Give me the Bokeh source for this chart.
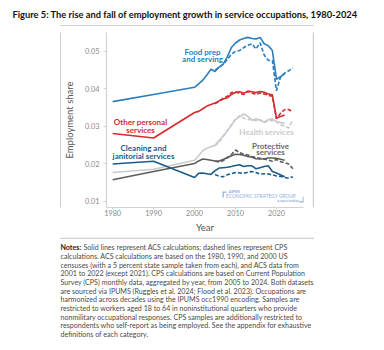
from bokeh.plotting import figure
from bokeh.models import Label, BoxAnnotation, PolyAnnotation, FixedTicker, Range1d
from bokeh.layouts import column, row
from bokeh.embed import file_html
from bokeh.resources import INLINE

# ---------------- data ----------------
years_acs = [1980, 1990, 2000, 2001, 2002, 2003, 2004, 2005, 2006, 2007, 2008, 2009,
             2010, 2011, 2012, 2013, 2014, 2015, 2016, 2017, 2018, 2019, 2020, 2022]
years_cps = [2005, 2006, 2007, 2008, 2009, 2010, 2011, 2012, 2013, 2014,
             2015, 2016, 2017, 2018, 2019, 2020, 2021, 2022, 2023, 2024]

food_acs = [0.0366, 0.0385, 0.0404, 0.0413, 0.0423, 0.0437, 0.0452, 0.0446, 0.0458, 0.0466,
            0.0485, 0.0510, 0.0522, 0.0530, 0.0534, 0.0537, 0.0534, 0.0533, 0.0537, 0.0520,
            0.0515, 0.0502, 0.0425, 0.0440]
food_cps = [0.0450, 0.0458, 0.0465, 0.0478, 0.0492, 0.0500, 0.0502, 0.0510, 0.0516, 0.0520,
            0.0506, 0.0523, 0.0490, 0.0476, 0.0475, 0.0395, 0.0432, 0.0442, 0.0448, 0.0455]

personal_acs = [0.0281, 0.0269, 0.0337, 0.0340, 0.0347, 0.0354, 0.0358, 0.0362, 0.0368, 0.0373,
                0.0376, 0.0385, 0.0390, 0.0392, 0.0388, 0.0394, 0.0392, 0.0390, 0.0393, 0.0391,
                0.0386, 0.0384, 0.0322, 0.0330]
personal_cps = [0.0360, 0.0367, 0.0375, 0.0380, 0.0390, 0.0392, 0.0388, 0.0385, 0.0393, 0.0389,
                0.0385, 0.0389, 0.0386, 0.0383, 0.0380, 0.0320, 0.0335, 0.0345, 0.0345, 0.0338]

health_acs = [0.0177, 0.0186, 0.0210, 0.0222, 0.0235, 0.0242, 0.0246, 0.0250, 0.0262, 0.0275,
              0.0288, 0.0302, 0.0318, 0.0326, 0.0333, 0.0327, 0.0316, 0.0320, 0.0316, 0.0312,
              0.0318, 0.0320, 0.0313, 0.0308]
health_cps = [0.0248, 0.0258, 0.0272, 0.0290, 0.0305, 0.0320, 0.0328, 0.0322, 0.0318, 0.0320,
              0.0315, 0.0318, 0.0310, 0.0315, 0.0316, 0.0312, 0.0305, 0.0300, 0.0296, 0.0318]

protect_acs = [0.0158, 0.0180, 0.0201, 0.0208, 0.0213, 0.0212, 0.0210, 0.0208, 0.0208, 0.0212,
               0.0217, 0.0222, 0.0226, 0.0225, 0.0223, 0.0220, 0.0218, 0.0214, 0.0213, 0.0214,
               0.0216, 0.0216, 0.0215, 0.0210]
protect_cps = [0.0207, 0.0205, 0.0209, 0.0216, 0.0225, 0.0237, 0.0230, 0.0226, 0.0224, 0.0220,
               0.0217, 0.0215, 0.0213, 0.0210, 0.0207, 0.0212, 0.0206, 0.0203, 0.0200, 0.0187]

clean_acs = [0.0200, 0.0207, 0.0164, 0.0175, 0.0176, 0.0174, 0.0172, 0.0182, 0.0189, 0.0190,
             0.0191, 0.0193, 0.0196, 0.0198, 0.0193, 0.0195, 0.0195, 0.0187, 0.0190, 0.0193,
             0.0195, 0.0180, 0.0176, 0.0166]
clean_cps = [0.0172, 0.0167, 0.0166, 0.0171, 0.0174, 0.0177, 0.0176, 0.0175, 0.0178, 0.0180,
             0.0177, 0.0173, 0.0174, 0.0173, 0.0171, 0.0168, 0.0167, 0.0164, 0.0162, 0.0166]

x_ticks = [1980, 1990, 2000, 2010, 2020]
y_ticks = [0.01, 0.02, 0.03, 0.04, 0.05]
y_tick_labels = ["0.01", "0.02", "0.03", "0.04", "0.05"]

title_text = "Figure 5: The rise and fall of employment growth in service occupations, 1980-2024"
notes_first = "Solid lines represent ACS calculations; dashed lines represent CPS"
notes_lines = [
    "calculations.  ACS calculations are based on the 1980, 1990, and 2000 US",
    "censuses (with a 5 percent  state sample taken from each), and ACS data from",
    "2001 to 2022 (except 2021). CPS calculations are based on Current Population",
    "Survey (CPS) monthly data, aggregated by year, from 2005 to 2024. Both datasets",
    "are sourced via IPUMS (Ruggles et al. 2024; Flood et al. 2023). Occupations are",
    "harmonized across decades using the IPUMS occ1990 encoding. Samples are",
    "restricted to workers aged 18 to 64 in noninstitutional quarters who provide",
    "nonmilitary occupational responses. CPS samples are additionally restricted to",
    "respondents who self-report as being employed. See the appendix for exhaustive",
    "definitions of each category.",
]

FONT = "Lato"
BOX = "#d0d0d0"


def blank(w, h):
    f = figure(width=w, height=h, output_backend="svg", toolbar_location=None,
               x_axis_location=None, y_axis_location=None, min_border=0,
               x_range=Range1d(0, 1), y_range=Range1d(0, 1))
    f.grid.visible = False
    f.outline_line_color = None
    f.background_fill_color = "white"
    f.border_fill_color = "white"
    return f


def lab(fig, x0, y1, cx, cy, text, size, color, style="normal", align="center"):
    # x0: canvas x of frame left, y1: canvas y of frame bottom
    fig.add_layout(Label(x=cx - x0, y=y1 - cy, x_units="screen", y_units="screen",
                         text=text, text_font=FONT, text_font_size=size,
                         text_color=color, text_font_style=style,
                         text_align=align, text_baseline="middle"))


def bar(fig, x0, y1, l, r, t, b, color=BOX):
    fig.add_layout(BoxAnnotation(left=l - x0, right=r - x0, top=y1 - t, bottom=y1 - b,
                                 left_units="screen", right_units="screen",
                                 top_units="screen", bottom_units="screen",
                                 fill_color=color, fill_alpha=1, line_color=None))


# ---------------- top strip: title + top border ----------------
top = blank(384, 26)
lab(top, 0, 26, 12, 13.5, title_text, "9.3px", "#111111", "bold", "left")
bar(top, 0, 26, 59.5, 313.5, 24.5, 26)

# ---------------- side strips: left / right border ----------------
left = blank(61, 211)
bar(left, 0, 237, 59.5, 61, 26, 237)
right = blank(72, 211)
bar(right, 312, 237, 312, 313.5, 26, 237)

# ---------------- main chart ----------------
FL, FB = 104, 207   # canvas frame left / bottom
p = figure(width=251, height=211, output_backend="svg", toolbar_location=None,
           x_range=Range1d(1978.5, 2026.6), y_range=Range1d(0.0084, 0.055),
           min_border_left=104 - 61, min_border_right=312 - 303,
           min_border_top=32 - 26, min_border_bottom=237 - 207)
p.grid.visible = False
p.outline_line_color = None
p.background_fill_color = "white"
p.border_fill_color = "white"

for ax in (p.xaxis[0], p.yaxis[0]):
    ax.axis_line_color = "#d2d2d2"
    ax.axis_line_width = 1.2
    ax.major_tick_line_color = "#d2d2d2"
    ax.major_tick_in = 0
    ax.minor_tick_line_color = None
    ax.major_label_text_color = "#8a8a8a"
    ax.major_label_text_font = FONT
    ax.major_label_text_font_size = "7.3px"
    ax.axis_label_text_color = "#555555"
    ax.axis_label_text_font = FONT
    ax.axis_label_text_font_style = "normal"
    ax.axis_label_text_font_size = "9.5px"

p.xaxis.ticker = FixedTicker(ticks=x_ticks)
p.yaxis.ticker = FixedTicker(ticks=y_ticks)
p.yaxis.major_label_overrides = dict(zip(y_ticks, y_tick_labels))
p.xaxis.axis_label = "Year"
p.yaxis.axis_label = "Employment share"
p.xaxis.major_tick_out = 2
p.xaxis.major_label_standoff = 0
p.xaxis.axis_label_standoff = 3
p.yaxis.major_tick_out = 3
p.yaxis.major_label_standoff = 4
p.yaxis.axis_label_standoff = 7

series = [
    (food_acs, food_cps, "#2a7dbf"),
    (personal_acs, personal_cps, "#d42a30"),
    (health_acs, health_cps, "#cacaca"),
    (protect_acs, protect_cps, "#5c5c5c"),
    (clean_acs, clean_cps, "#1c5b8a"),
]
for acs, cps, col in series:
    p.line(years_cps, cps, line_color=col, line_width=1.6, line_dash="4 2")
    p.line(years_acs, acs, line_color=col, line_width=1.6)

# series labels
lab(p, FL, FB, 200, 51, "Food prep", "8px", "#2a7dbf", "bold")
lab(p, FL, FB, 200, 58.3, "and serving", "8px", "#2a7dbf", "bold")
lab(p, FL, FB, 138, 121.7, "Other personal", "8px", "#d42a30", "bold")
lab(p, FL, FB, 138, 129, "services", "8px", "#d42a30", "bold")
lab(p, FL, FB, 141, 147.5, "Cleaning and", "8px", "#1c5b8a", "bold")
lab(p, FL, FB, 141, 155, "janitorial services", "8px", "#1c5b8a", "bold")
lab(p, FL, FB, 264, 131, "Health services", "8px", "#cacaca", "bold")
lab(p, FL, FB, 268, 145, "Protective", "8px", "#6a6a6a", "bold")
lab(p, FL, FB, 268, 151.5, "services", "8px", "#6a6a6a", "bold")

# logo
LOGO = "#8eaee0"
lab(p, FL, FB, 226, 191, "ASPEN", "3.5px", LOGO, "bold", "left")
lab(p, FL, FB, 223.5, 195.5, "ECONOMIC STRATEGY GROUP", "4.9px", LOGO, "normal", "left")
lab(p, FL, FB, 297, 200.5, "\u25cf aspen institute", "3px", "#6f93cf", "normal", "right")
p.add_layout(PolyAnnotation(xs=[220 - FL, 224 - FL, 224 - FL, 221.3 - FL, 221.3 - FL, 220 - FL],
                            ys=[FB - 191, FB - 191, FB - 192.2, FB - 192.2, FB - 197, FB - 197],
                            xs_units="screen", ys_units="screen",
                            fill_color=LOGO, fill_alpha=1, line_color=None))
p.add_layout(PolyAnnotation(xs=[301.5 - FL, 297 - FL, 297 - FL, 300.2 - FL, 300.2 - FL, 301.5 - FL],
                            ys=[FB - 202, FB - 202, FB - 200.8, FB - 200.8, FB - 196, FB - 196],
                            xs_units="screen", ys_units="screen",
                            fill_color=LOGO, fill_alpha=1, line_color=None))

# ---------------- bottom strip: bottom border + notes ----------------
bottom = blank(384, 113)
BY1 = 350
bar(bottom, 0, BY1, 59.5, 313.5, 237, 238.5)
lab(bottom, 0, BY1, 60, 247.3, "Notes:", "7.1px", "#222222", "bold", "left")
lab(bottom, 0, BY1, 83, 247.3, notes_first, "7.1px", "#4a4a4a", "normal", "left")
for i, line in enumerate(notes_lines):
    lab(bottom, 0, BY1, 60, 256 + i * 8.68, line, "7.1px", "#4a4a4a", "normal", "left")

layout = column(top, row(left, p, right, spacing=0), bottom, spacing=0)
open("out.html", "w").write(file_html(layout, INLINE))
